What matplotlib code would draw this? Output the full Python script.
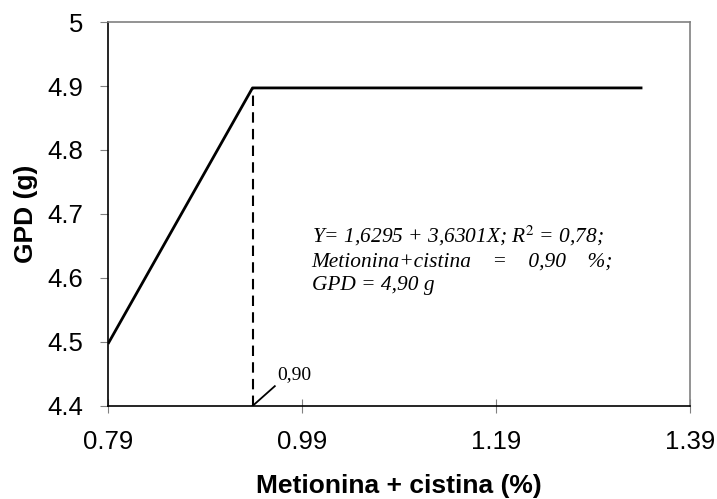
import matplotlib
matplotlib.use("Agg")
import matplotlib.pyplot as plt

# broken-line fit
x_line = [0.79, 0.939, 1.341]
y_line = [4.497, 4.897, 4.897]
x_break = 0.939
y_plateau = 4.897

x_ticks = [0.79, 0.99, 1.19, 1.39]
x_tick_labels = ["0.79", "0.99", "1.19", "1.39"]
y_ticks = [4.4, 4.5, 4.6, 4.7, 4.8, 4.9, 5.0]
y_tick_labels = ["4.4", "4.5", "4.6", "4.7", "4.8", "4.9", "5"]

eq_lines = [
    r"Y= 1,6295 + 3,6301X; R$^{2}$ = 0,78;",
    "Metionina+cistina    =    0,90    %;",
    "GPD = 4,90 g",
]


def main():
    fig = plt.figure(figsize=(7.17, 4.99), dpi=100)
    ax = fig.add_axes([0.1506, 0.1864, 0.8117, 0.7695])

    ax.plot(x_line, y_line, color="black", lw=2, solid_capstyle="butt")
    ax.plot([x_break, x_break], [4.4, y_plateau], color="black", lw=1.5,
            linestyle=(0, (5, 3)))
    ax.plot([x_break, 0.962], [4.4, 4.431], color="black", lw=1.3)
    ax.text(0.965, 4.442, "0,90", family="Liberation Serif", fontsize=14,
            va="baseline", ha="left")

    for i, s in enumerate(eq_lines):
        ax.text(1.0, 4.655 - i * 0.0367, s, family="Liberation Serif",
                style="italic", fontsize=15.4, va="baseline", ha="left",
                math_fontfamily="stix")

    ax.set_xlim(0.79, 1.39)
    ax.set_ylim(4.4, 5.0)
    ax.set_xticks(x_ticks)
    ax.set_xticklabels(x_tick_labels, family="Liberation Sans", fontsize=18.5)
    ax.set_yticks(y_ticks)
    ax.set_yticklabels(y_tick_labels, family="Liberation Sans", fontsize=18.5)
    ax.tick_params(axis="y", direction="out", length=6, color="#808080", pad=12)
    ax.tick_params(axis="x", direction="inout", length=10, color="#808080", pad=12)

    ax.spines["left"].set_color("black")
    ax.spines["bottom"].set_color("black")
    ax.spines["top"].set_color("#808080")
    ax.spines["right"].set_color("#808080")
    for sp in ax.spines.values():
        sp.set_linewidth(1.2)

    ax.set_xlabel("Metionina + cistina (%)", family="Liberation Sans",
                  fontsize=19, fontweight="bold")
    ax.set_ylabel("GPD (g)", family="Liberation Sans", fontsize=19,
                  fontweight="bold")
    ax.xaxis.set_label_coords(0.5, -0.178)
    ax.yaxis.set_label_coords(-0.121, 0.5)

    fig.savefig("out.png", dpi=100)


if __name__ == "__main__":
    main()
